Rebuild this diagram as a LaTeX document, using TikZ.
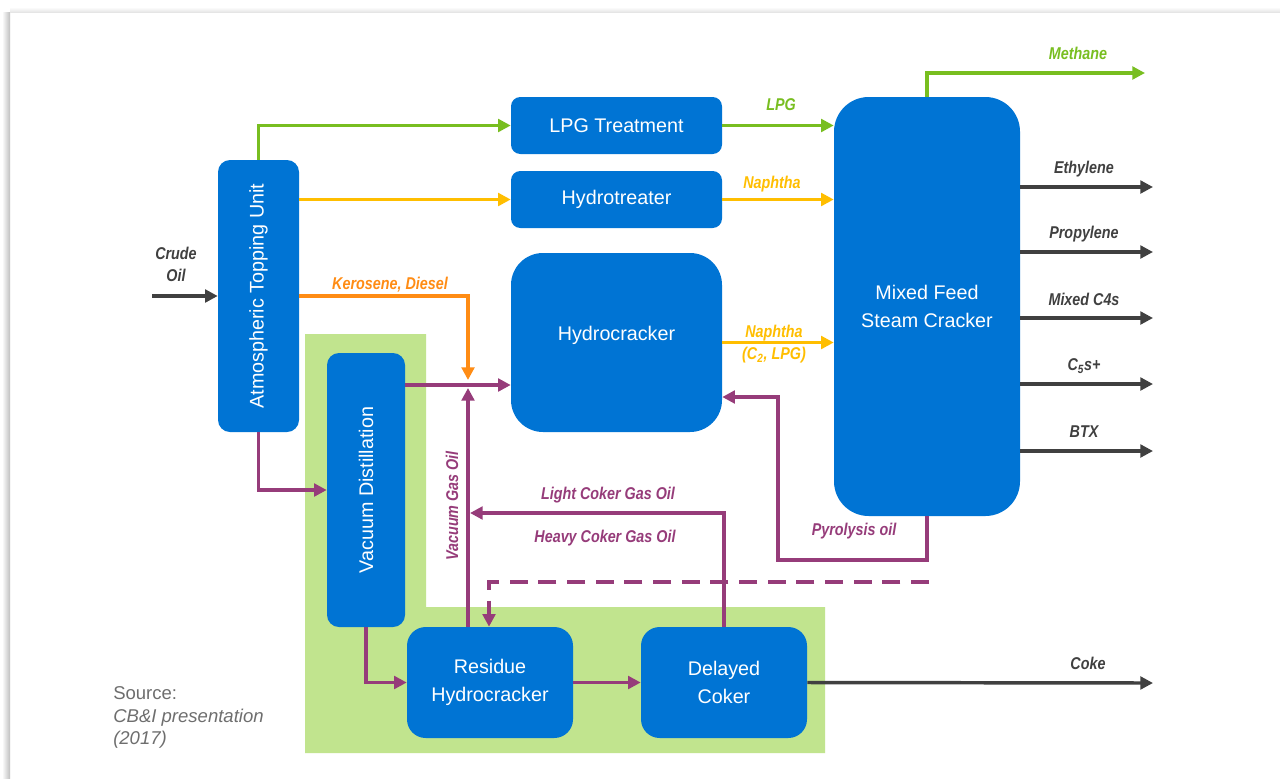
\documentclass[tikz,border=0pt]{standalone}
\usepackage{fontspec}
\setmainfont{Liberation Sans}
\newfontfamily\lblfont[FakeStretch=0.84]{Liberation Sans}
\usetikzlibrary{arrows.meta}
\definecolor{unitblue}{RGB}{0,116,212}
\definecolor{zonegreen}{RGB}{193,228,142}
\definecolor{gasgreen}{RGB}{120,190,32}
\definecolor{naphyellow}{RGB}{255,190,0}
\definecolor{keroorange}{RGB}{255,140,20}
\definecolor{oilpurple}{RGB}{150,60,122}
\definecolor{prodgray}{RGB}{64,64,64}
\definecolor{srcgray}{RGB}{110,110,110}

\begin{document}
\begin{tikzpicture}[x=0.75pt,y=-0.75pt,
  unit/.style={fill=unitblue, text=white, inner sep=0pt, align=center,
    font=\fontsize{14.8}{21}\selectfont},
  flow/.style={line width=2.6pt, -{Triangle[length=9.5pt,width=9.5pt]}},
  lbl/.style={font=\lblfont\bfseries\itshape\fontsize{12.8}{16.5}\selectfont,
    inner sep=0pt, align=center},
  src/.style={anchor=base west, inner sep=0pt, text=srcgray,
    font=\fontsize{13.9}{17}\selectfont},
]
\useasboundingbox (0,0) rectangle (1280,778);
\fill[white] (0,0) rectangle (1280,778);
% soft edge of the sheet
\shade[left color=white, right color=black!25] (2,12) rectangle (10,778);
\shade[top color=white, bottom color=black!10] (10,7) rectangle (1280,12);

% residue upgrading zone
\fill[zonegreen] (305,334) -- (426,334) -- (426,607) -- (825,607)
  -- (825,753) -- (305,753) -- cycle;

% process units
\node[unit, minimum width=60.75pt, minimum height=204pt, rounded corners=9pt]
  (atu) at (258.5,296) {\rotatebox{90}{Atmospheric Topping Unit}};
\node[unit, minimum width=158.25pt, minimum height=42.75pt, rounded corners=7pt]
  (lpg) at (616.5,125.5) {LPG Treatment};
\node[unit, minimum width=158.25pt, minimum height=42.75pt, rounded corners=7pt]
  (hyd) at (616.5,199.5) {Hydrotreater};
\node[unit, minimum width=158.25pt, minimum height=134.25pt, rounded corners=24pt]
  (hc) at (616.5,342.5) {\raisebox{13pt}{Hydrocracker}};
\node[unit, minimum width=139.5pt, minimum height=314.25pt, rounded corners=26pt]
  (mfsc) at (927,306.5) {Mixed Feed\\Steam Cracker};
\node[unit, minimum width=58.5pt, minimum height=205.5pt, rounded corners=9pt]
  (vd) at (366,490) {\rotatebox{90}{Vacuum Distillation}};
\node[unit, minimum width=124.5pt, minimum height=83.25pt, rounded corners=14pt]
  (rh) at (490,682.5) {Residue\\Hydrocracker};
\node[unit, minimum width=124.5pt, minimum height=83.25pt, rounded corners=14pt]
  (dc) at (724,682.5) {Delayed\\Coker};

% free ends and junctions
\coordinate (crude) at (152,296);
\coordinate (methane) at (1145,73);
\coordinate (kdtip) at (468,380);
\coordinate (vgo) at (468,385);
\coordinate (vgotip) at (468,388);
\coordinate (lcgo) at (470,513);
\coordinate (pyc) at (778,560);
\coordinate (pyt) at (778,397);
\coordinate (dsr) at (929,582);
\coordinate (dsl) at (489,582);
\coordinate (eth) at (1153,187);
\coordinate (pro) at (1153,252);
\coordinate (cfour) at (1153,318);
\coordinate (cfive) at (1153,384);
\coordinate (btx) at (1153,451);
\coordinate (coke) at (1153,683);

% feed and light ends
\draw[flow, prodgray] (crude) -- (crude -| atu.west);
\draw[flow, gasgreen] (atu.north) |- (lpg.west);
\draw[flow, gasgreen] (lpg.east) -- (lpg.east -| mfsc.west);
\draw[flow, gasgreen] (mfsc.north) |- (methane);
\draw[flow, naphyellow] (atu.east |- hyd.west) -- (hyd.west);
\draw[flow, naphyellow] (hyd.east) -- (hyd.east -| mfsc.west);
\draw[flow, naphyellow] (hc.east) -- (hc.east -| mfsc.west);
\draw[flow, keroorange] (atu.east) -| (kdtip);

% heavy oil loops
\draw[flow, oilpurple] (vd.east |- vgo) -- (vgo -| hc.west);
\draw[flow, oilpurple] (rh.north -| vgo) -- (vgotip);
\draw[flow, oilpurple] (dc.north) |- (lcgo);
\draw[flow, oilpurple] (atu.south) |- (vd.west);
\draw[flow, oilpurple] (vd.south) |- (rh.west);
\draw[flow, oilpurple] (rh.east) -- (dc.west);
\draw[flow, oilpurple] (mfsc.south) |- (pyc) -- (pyt) -- (pyt -| hc.east);
\draw[flow, oilpurple, dash pattern=on 13.5pt off 8pt] (dsr) -- (dsl) -- (dsl |- rh.north);

% products
\draw[flow, prodgray] (mfsc.east |- eth) -- (eth);
\draw[flow, prodgray] (mfsc.east |- pro) -- (pro);
\draw[flow, prodgray] (mfsc.east |- cfour) -- (cfour);
\draw[flow, prodgray] (mfsc.east |- cfive) -- (cfive);
\draw[flow, prodgray] (mfsc.east |- btx) -- (btx);
\draw[flow, prodgray] (dc.east) -- (coke);

% stream labels
\node[lbl, text=prodgray] (tcrude) at (176,264) {Crude\\Oil};
\node[lbl, text=gasgreen] (tmeth) at (1078,53) {Methane};
\node[lbl, text=gasgreen] (tlpg) at (781,105) {LPG};
\node[lbl, text=naphyellow] (tnaph) at (772,184) {Naphtha};
\node[lbl, text=naphyellow] (tnaphb) at (774,344) {Naphtha\\(C\textsubscript{2}, LPG)};
\node[lbl, text=keroorange] (tkero) at (390,285) {Kerosene, Diesel};
\node[lbl, text=prodgray] (teth) at (1084,169) {Ethylene};
\node[lbl, text=prodgray] (tpro) at (1084,234) {Propylene};
\node[lbl, text=prodgray] (tcfour) at (1084,299) {Mixed C4s};
\node[lbl, text=prodgray] (tcfive) at (1084,366) {C\textsubscript{5}s+};
\node[lbl, text=prodgray] (tbtx) at (1084,432) {BTX};
\node[lbl, text=prodgray] (tcoke) at (1088,663) {Coke};
\node[lbl, text=oilpurple] (tlcgo) at (608,495) {Light Coker Gas Oil};
\node[lbl, text=oilpurple] (thcgo) at (605,538) {Heavy Coker Gas Oil};
\node[lbl, text=oilpurple] (tpyro) at (854,531) {Pyrolysis oil};
\node[lbl, text=oilpurple, rotate=90] (tvgo) at (452,506) {Vacuum Gas Oil};

% source note
\node[src] (src1) at (113,699) {Source:};
\node[src] (src2) at (113,722) {\itshape CB\&I presentation};
\node[src] (src3) at (113,744) {\itshape (2017)};
\end{tikzpicture}
\end{document}
